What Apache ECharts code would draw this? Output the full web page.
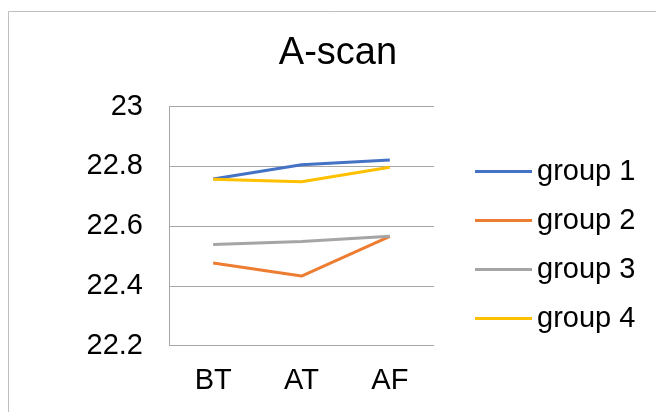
<!DOCTYPE html>
<html>
<head>
<meta charset="utf-8">
<script src="https://cdn.jsdelivr.net/npm/echarts@6/dist/echarts.min.js"></script>
<style>html,body{margin:0;padding:0;background:#fff}#c{width:656px;height:412px}</style>
</head>
<body>
<div id="c"></div>
<script>
const categories = ['BT', 'AT', 'AF'];
const group1 = [22.758, 22.806, 22.822];
const group2 = [22.477, 22.433, 22.566];
const group3 = [22.539, 22.549, 22.566];
const group4 = [22.757, 22.749, 22.797];
const seriesNames = ['group 1', 'group 2', 'group 3', 'group 4'];
const colors = ['#4472C4', '#ED7D31', '#A5A5A5', '#FFC000'];
const yMin = 22.2, yMax = 23, yStep = 0.2;

const font = 'Liberation Sans, Arial, sans-serif';
const chart = echarts.init(document.getElementById('c'), null, {renderer: 'canvas'});
const dataSets = [group1, group2, group3, group4];
chart.setOption({
  animation: false,
  backgroundColor: '#fff',
  graphic: [{
    type: 'rect', left: 6, top: 9, shape: {width: 700, height: 450},
    style: {fill: 'none', stroke: '#bfbfbf', lineWidth: 1}, silent: true, z: -1
  }],
  title: {
    text: 'A-scan', left: 333, top: 30, textAlign: 'center',
    textStyle: {fontFamily: font, fontSize: 38, fontWeight: 'normal', color: '#000'}
  },
  legend: {
    orient: 'vertical', left: 475, top: 157, padding: 0,
    icon: 'rect', itemWidth: 57, itemHeight: 3, itemGap: 20,
    textStyle: {fontFamily: font, fontSize: 29, color: '#000'},
    data: seriesNames
  },
  grid: {left: 169, right: 222, top: 106.7, bottom: 66.3, containLabel: false},
  xAxis: {
    type: 'category', data: categories, boundaryGap: true,
    axisLine: {show: false}, axisTick: {show: false},
    axisLabel: {fontFamily: font, fontSize: 29, color: '#000', margin: 21}
  },
  yAxis: {
    type: 'value', min: yMin, max: yMax, interval: yStep,
    axisLine: {show: true, lineStyle: {color: '#a6a6a6', width: 1}},
    axisTick: {show: false},
    splitLine: {lineStyle: {color: '#a6a6a6', width: 1}},
    axisLabel: {fontFamily: font, fontSize: 29, color: '#000', margin: 26,
      formatter: v => String(Math.round(v * 10) / 10)}
  },
  series: seriesNames.map((n, i) => ({
    name: n, type: 'line', data: dataSets[i], symbol: 'none',
    lineStyle: {color: colors[i], width: 3}, itemStyle: {color: colors[i]}
  }))
});
</script>
</body>
</html>
